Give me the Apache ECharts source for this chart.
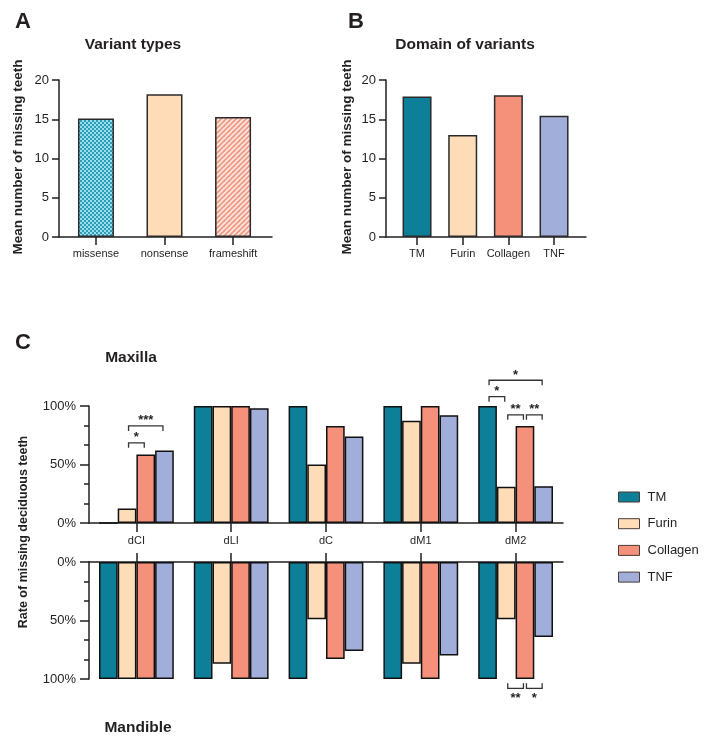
<!DOCTYPE html>
<html>
<head>
<meta charset="utf-8">
<title>Missing teeth</title>
<script src="https://cdn.jsdelivr.net/npm/echarts@6.0.0/dist/echarts.min.js"></script>
<style>
html,body{margin:0;padding:0;background:#fff;}
#main{width:707px;height:743px;}
</style>
</head>
<body>
<div id="main"></div>
<script>
// panel A
var variantTypes = ['missense', 'nonsense', 'frameshift'];
var variantMeans = [15.1, 18.2, 15.3];
// panel B
var domains = ['TM', 'Furin', 'Collagen', 'TNF'];
var domainMeans = [17.9, 13.0, 18.05, 15.45];
// panel C, rate of missing teeth (%)
var teeth = ['dCI', 'dLI', 'dC', 'dM1', 'dM2'];
var maxTM       = [0, 100, 100, 100, 100];
var maxFurin    = [12.5, 100, 50, 87.5, 31];
var maxCollagen = [58.5, 100, 83, 100, 83];
var maxTNF      = [62, 98, 74, 92, 31.5];
var mandTM       = [100, 100, 100, 100, 100];
var mandFurin    = [100, 87, 49, 87, 49];
var mandCollagen = [100, 100, 83, 100, 100];
var mandTNF      = [100, 100, 76, 80, 64];
// significance brackets: [tooth index, from group, to group, height %, stars]
var maxillaSig = [
	[0, 1, 2, 68.5, '*'],
	[0, 1, 3, 83, '***'],
	[4, 0, 3, 122, '*'],
	[4, 0, 1, 108, '*'],
	[4, 1, 2, 92.5, '**'],
	[4, 2, 3, 92.5, '**']
];
var mandibleSig = [
	[4, 1, 2, 108, '**'],
	[4, 2, 3, 108, '*']
];

var groupColors = ['#0e7f99', '#fedcb8', '#f5907a', '#a2aeda'];
var ink = '#231f20';
var font = 'Arial, "Liberation Sans", sans-serif';
var barW = 18.7;

function makePattern(kind){
	var c = document.createElement('canvas');
	var ctx = c.getContext('2d');
	if(kind == 'dots'){
		c.width = 4; c.height = 4;
		ctx.fillStyle = '#98dfee';
		ctx.fillRect(0, 0, 4, 4);
		ctx.fillStyle = '#2f9db3';
		ctx.fillRect(0, 0, 2, 2);
		ctx.fillRect(2, 2, 2, 2);
	} else {
		c.width = 5; c.height = 5;
		ctx.fillStyle = '#fde6dc';
		ctx.fillRect(0, 0, 5, 5);
		ctx.strokeStyle = '#ef9a86';
		ctx.lineWidth = 1.8;
		for(var k = -5; k <= 5; k += 5){
			ctx.beginPath();
			ctx.moveTo(k - 1, 6);
			ctx.lineTo(k + 6, -1);
			ctx.stroke();
		}
	}
	return {image: c, repeat: 'repeat'};
}
var variantColors = [makePattern('dots'), '#fedcb8', makePattern('stripes')];

var axisLine = {show: true, onZero: false, lineStyle: {color: ink, width: 1.5}};
var labelStyle = {color: ink, fontFamily: font};

function valueY(gridIndex, max, interval, inverse, fmt, minor){
	return {
		type: 'value', gridIndex: gridIndex, min: 0, max: max, interval: interval, inverse: inverse,
		axisLine: axisLine,
		axisTick: {show: true, length: minor ? 9 : 7, lineStyle: {color: ink, width: 1.5}},
		minorTick: {show: !!minor, splitNumber: 3, length: 5, lineStyle: {color: ink, width: 1.5}},
		axisLabel: Object.assign({fontSize: 13, margin: minor ? 13 : 10, formatter: fmt}, labelStyle),
		splitLine: {show: false}
	};
}

function smallX(gridIndex, min, max, names){
	var idx = names.map(function(n, i){ return i; });
	return {
		type: 'value', gridIndex: gridIndex, min: min, max: max,
		axisLine: axisLine,
		axisTick: {show: true, length: 8, customValues: idx, lineStyle: {color: ink, width: 1.5}},
		axisLabel: Object.assign({fontSize: 11, margin: 11, customValues: idx,
			formatter: function(v){ return names[Math.round(v)]; }}, labelStyle),
		splitLine: {show: false}
	};
}

function bracketSeries(xIdx, yIdx, sig, dir){
	return {
		type: 'custom', xAxisIndex: xIdx, yAxisIndex: yIdx, clip: false, silent: true, z: 10,
		data: sig.map(function(s){ return [s[0], s[1], s[2], s[3]]; }),
		encode: {x: 0, y: 3},
		renderItem: function(params, api){
			var c = api.coord([api.value(0), api.value(3)]);
			var x1 = c[0] + (api.value(1) - 1.5) * barW + 1.5;
			var x2 = c[0] + (api.value(2) - 1.5) * barW - 1.5;
			var y = c[1], t = 5 * dir;
			return {type: 'group', children: [
				{type: 'polyline', shape: {points: [[x1, y + t], [x1, y], [x2, y], [x2, y + t]]},
					style: {stroke: '#333', lineWidth: 1.3, fill: null}},
				{type: 'text', style: {text: sig[params.dataIndex][4], x: (x1 + x2) / 2,
					y: dir > 0 ? y - 5 : y + 10.5, textAlign: 'center', textVerticalAlign: 'middle',
					fontSize: 13, fontWeight: 'bold', fontFamily: font, fill: ink}}
			]};
		}
	};
}

function groupBars(names, lists, xIdx, yIdx){
	return names.map(function(n, i){
		return {
			name: n, type: 'bar', xAxisIndex: xIdx, yAxisIndex: yIdx,
			barWidth: barW, barGap: '0%', data: lists[i],
			itemStyle: {color: groupColors[i], borderColor: '#111', borderWidth: 1.5}
		};
	});
}

function txt(t, x, y, size, rot){
	return {type: 'text', x: x, y: y, rotation: rot || 0, silent: true,
		style: {text: t, fontSize: size, fontWeight: 'bold', fontFamily: font, fill: ink,
			textAlign: 'center', textVerticalAlign: 'middle'}};
}

var myChart = echarts.init(document.getElementById('main'), null, {renderer: 'canvas'});

var option = {
	backgroundColor: '#fff',
	animation: false,
	grid: [
		{left: 59, top: 80, width: 213, height: 157},
		{left: 386, top: 80, width: 200, height: 157},
		{left: 89, top: 406, width: 474, height: 117},
		{left: 89, top: 562, width: 474, height: 117}
	],
	xAxis: [
		smallX(0, -0.539, 2.568, variantTypes),
		smallX(1, -0.68, 3.70, domains),
		{
			type: 'category', gridIndex: 2, data: teeth, position: 'bottom',
			axisLine: axisLine,
			axisTick: {show: true, alignWithLabel: true, length: 9, lineStyle: {color: ink, width: 1.5}},
			axisLabel: Object.assign({fontSize: 11, margin: 12}, labelStyle)
		},
		{
			type: 'category', gridIndex: 3, data: teeth, position: 'top',
			axisLine: axisLine,
			axisTick: {show: true, alignWithLabel: true, length: 9, lineStyle: {color: ink, width: 1.5}},
			axisLabel: {show: false}
		}
	],
	yAxis: [
		valueY(0, 20, 5, false, '{value}', false),
		valueY(1, 20, 5, false, '{value}', false),
		valueY(2, 100, 50, false, '{value}%', true),
		valueY(3, 100, 50, true, '{value}%', true)
	],
	legend: {
		data: domains, orient: 'vertical', left: 613, top: 485, icon: 'rect',
		itemWidth: 21, itemHeight: 10, itemGap: 12.7,
		itemStyle: {borderColor: '#4a3a35', borderWidth: 1},
		textStyle: {fontSize: 13, lineHeight: 14, color: ink, fontFamily: font, padding: [0, 0, 0, 3]}
	},
	graphic: [
		txt('A', 23, 22, 22),
		txt('B', 356, 22, 22),
		txt('C', 23, 343, 22),
		txt('Variant types', 133, 45, 15.5),
		txt('Domain of variants', 465, 45, 15.5),
		txt('Maxilla', 131, 358, 15.5),
		txt('Mandible', 138, 728, 15.5),
		txt('Mean number of missing teeth', 18, 157, 13.5, Math.PI / 2),
		txt('Mean number of missing teeth', 347, 157, 13.5, Math.PI / 2),
		txt('Rate of missing deciduous teeth', 24, 532, 12.5, Math.PI / 2)
	],
	series: [
		{
			type: 'bar', xAxisIndex: 0, yAxisIndex: 0, barWidth: 36,
			data: variantMeans.map(function(v, i){
				return {value: [i, v], itemStyle: {color: variantColors[i]}};
			}),
			itemStyle: {borderColor: '#2b2b2b', borderWidth: 1.5}
		},
		{
			type: 'bar', xAxisIndex: 1, yAxisIndex: 1, barWidth: 29,
			data: domainMeans.map(function(v, i){
				return {value: [i, v], itemStyle: {color: groupColors[i]}};
			}),
			itemStyle: {borderColor: '#2b2b2b', borderWidth: 1.5}
		}
	]
	.concat(groupBars(domains, [maxTM, maxFurin, maxCollagen, maxTNF], 2, 2))
	.concat(groupBars(domains, [mandTM, mandFurin, mandCollagen, mandTNF], 3, 3))
	.concat([bracketSeries(2, 2, maxillaSig, 1), bracketSeries(3, 3, mandibleSig, -1)])
};

myChart.setOption(option);

window.onresize = function(){
	myChart.resize();
};
</script>
</body>
</html>
